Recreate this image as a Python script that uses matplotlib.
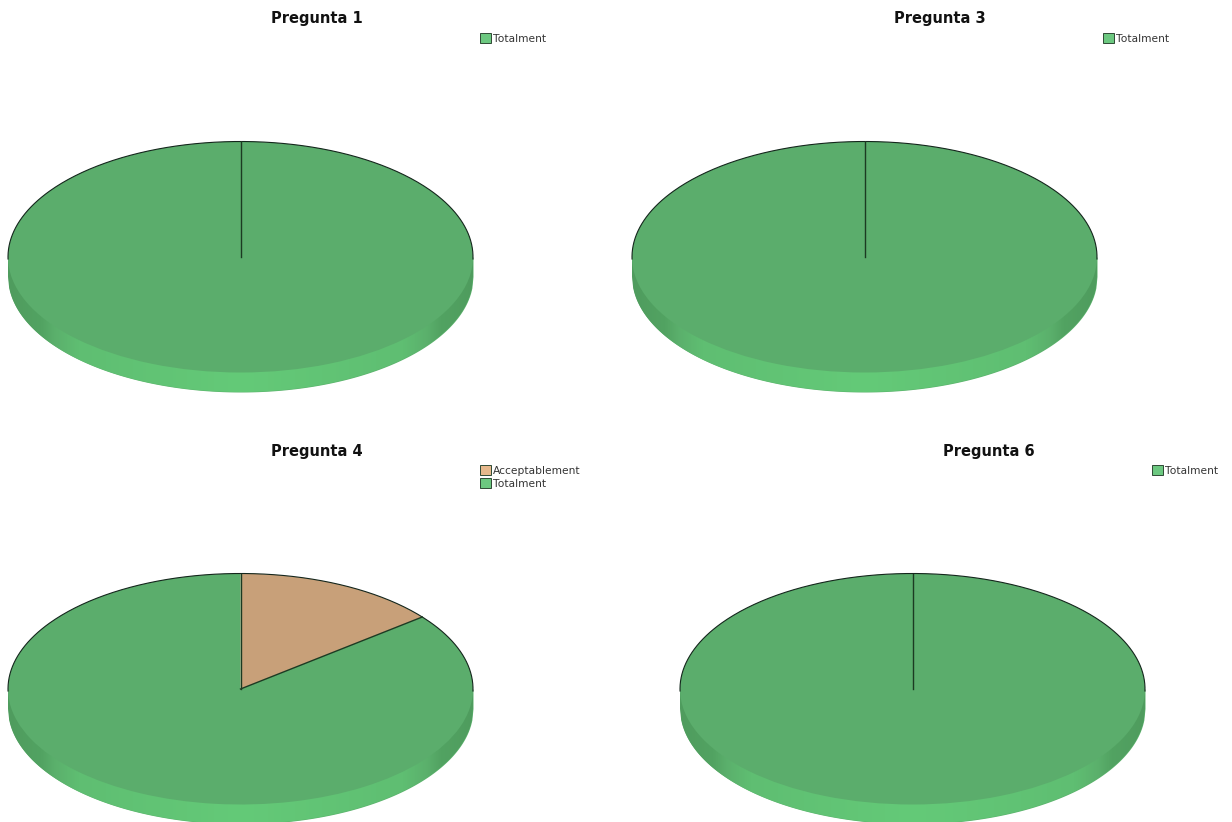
import numpy as np
import matplotlib
matplotlib.use("Agg")
import matplotlib.pyplot as plt
from matplotlib.colors import LinearSegmentedColormap
from matplotlib.patches import Patch

W, H = 1232, 822
titles = ["Pregunta 1", "Pregunta 3", "Pregunta 4", "Pregunta 6"]
labels_p1 = ["Totalment"]
values_p1 = [5]
labels_p3 = ["Totalment"]
values_p3 = [5]
labels_p4 = ["Acceptablement", "Totalment"]
values_p4 = [1, 6]
labels_p6 = ["Totalment"]
values_p6 = [5]

all_labels = [labels_p1, labels_p3, labels_p4, labels_p6]
all_values = [values_p1, values_p3, values_p4, values_p6]

colors = {"Totalment": "#5bad6c", "Acceptablement": "#c8a079"}
swatch = {"Totalment": "#6cc880", "Acceptablement": "#e6b88c"}
line_col = "#1c3a22"

# layout in pixels: centre x, centre y, title cx, title y, legend x, legend y
layout = [
    (240.5, 257, 316.5, 19, 480, 34),
    (864.5, 257, 939.5, 19, 1103, 34),
    (240.5, 689, 316.5, 451, 480, 466),
    (912.5, 689, 988.5, 451, 1152, 466),
]
RX, RY, DEPTH = 232.5, 115.5, 19.5

rim_cmap = LinearSegmentedColormap.from_list(
    "rim", [(0, "#4f9c5e"), (0.07, "#52a362"), (0.10, "#5bb06c"), (0.15, "#5fbe72"),
            (0.5, "#64ca78"), (0.85, "#5fbe72"), (0.90, "#5bb06c"), (0.93, "#52a362"), (1, "#4f9c5e")])

fig = plt.figure(figsize=(W / 100, H / 100), dpi=100, facecolor="white")
plt.rcParams["font.family"] = "DejaVu Sans"

for title, labs, vals, (cx, cy, tx, ty, lx, ly) in zip(titles, all_labels, all_values, layout):
    d = DEPTH / RY
    ax = fig.add_axes([(cx - RX) / W, 1 - (cy + RY + DEPTH) / H,
                       2 * RX / W, (2 * RY + DEPTH) / H])
    ax.patch.set_alpha(0)

    # side of the disc
    xs = np.linspace(-1, 1, 400)
    rim = ax.fill_between(xs, -np.sqrt(1 - xs ** 2) - d, 0, color="#5cb36d", lw=0, zorder=1)
    img = ax.imshow(np.linspace(0, 1, 256)[None, :], cmap=rim_cmap, extent=(-1, 1, -1 - d, 0),
                    aspect="auto", zorder=1.5)
    img.set_clip_path(rim.get_paths()[0], transform=ax.transData)

    # top of the disc
    wedges, _ = ax.pie(vals, colors=[colors[l] for l in labs], startangle=90, counterclock=False,
                       radius=1, center=(0, 0), wedgeprops=dict(lw=0, zorder=2))
    for w in wedges:
        w.set_zorder(2)

    # outline: upper rim and slice borders
    th = np.radians(np.linspace(-1, 181, 300))
    ax.plot(np.cos(th), np.sin(th), color="#14261c", lw=0.8, zorder=3, clip_on=False)
    fracs = np.cumsum([0] + list(vals))[:-1] / sum(vals)
    for f in fracs:
        a = np.pi / 2 - 2 * np.pi * f
        ax.plot([0, np.cos(a)], [0, np.sin(a)], color=line_col, lw=1.0, zorder=3)

    ax.set_aspect("auto")
    ax.set_xlim(-1, 1)
    ax.set_ylim(-1 - d, 1)
    ax.axis("off")

    fig.text(tx / W, 1 - ty / H, title, ha="center", va="center",
             fontsize=10.5, fontweight="bold", color="#111111")

    handles = [Patch(facecolor=swatch[l], edgecolor="#2f4a35", lw=0.7, label=l) for l in labs]
    fig.legend(handles=handles, loc="upper left", bbox_to_anchor=(lx / W, 1 - (ly - 1) / H),
               bbox_transform=fig.transFigure, frameon=False, fontsize=7.7, borderpad=0,
               borderaxespad=0, handlelength=1.05, handleheight=1.05, handletextpad=0.12,
               labelspacing=0.22, labelcolor="#333333")

fig.savefig("out.png", dpi=100, facecolor="white")
